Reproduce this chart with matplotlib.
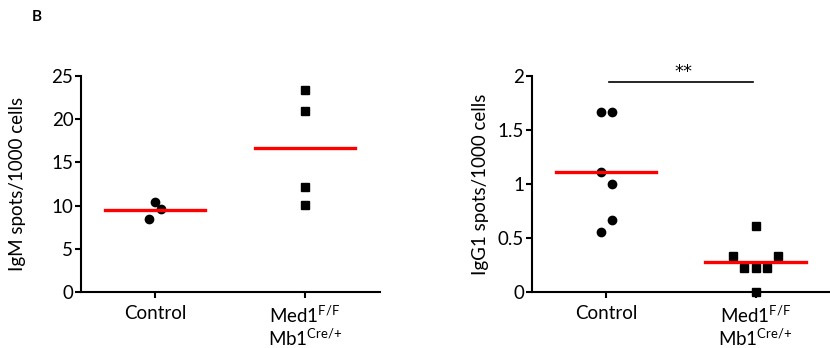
import numpy as np
import matplotlib
matplotlib.use("Agg")
import matplotlib.pyplot as plt

plt.rcParams['font.family'] = ['Lato', 'DejaVu Sans']
plt.rcParams['mathtext.default'] = 'regular'

# data
groups = ['Control', 'Med1$^{F/F}$\nMb1$^{Cre/{+}}$']

igm_ctrl = [8.5, 10.4, 9.6]
igm_ctrl_dx = [-0.04, 0.0, 0.04]
igm_med1 = [23.4, 20.9, 12.2, 10.1]
igm_med1_dx = [0.0, 0.0, 0.0, 0.0]

igg_ctrl = [1.667, 1.667, 1.11, 1.0, 0.667, 0.556]
igg_ctrl_dx = [-0.035, 0.04, -0.035, 0.04, 0.04, -0.035]
igg_med1 = [0.615, 0.333, 0.333, 0.222, 0.222, 0.222, 0.0]
igg_med1_dx = [0.0, -0.153, 0.151, -0.078, 0.0, 0.073, 0.0]

fig = plt.figure(figsize=(8.3, 3.48), dpi=100)
ax1 = fig.add_axes([0.0976, 0.160, 0.360, 0.6222])
ax2 = fig.add_axes([0.6406, 0.160, 0.360, 0.6222])


def panel(ax, ctrl, ctrl_dx, med, med_dx, ylim, yticks, yticklabels, ylabel, labelx):
    ax.plot(np.array(ctrl_dx) + 0, ctrl, 'o', color='black', ms=6, clip_on=False, zorder=3)
    ax.plot(np.array(med_dx) + 1, med, 's', color='black', ms=6, clip_on=False, zorder=3)
    for i, vals in enumerate([ctrl, med]):
        m = np.mean(vals)
        ax.plot([i - 0.335, i + 0.335], [m, m], color='red', lw=2.4, zorder=4)
    ax.set_xlim(-0.495, 1.5)
    ax.set_ylim(*ylim)
    ax.set_yticks(yticks)
    ax.set_yticklabels(yticklabels)
    ax.set_xticks([0, 1])
    ax.set_xticklabels(groups, fontsize=13.5, linespacing=1.08, va='top')
    for s in ['top', 'right']:
        ax.spines[s].set_visible(False)
    for s in ['left', 'bottom']:
        ax.spines[s].set_linewidth(1.5)
    ax.tick_params(axis='both', length=4, width=1.5, labelsize=13.5, pad=1.5)
    ax.tick_params(axis='x', pad=5)
    ax.set_ylabel(ylabel, fontsize=13.5, va='center')
    ax.yaxis.set_label_coords(labelx, 0.5)


panel(ax1, igm_ctrl, igm_ctrl_dx, igm_med1, igm_med1_dx,
      (0, 25), [0, 5, 10, 15, 20, 25], ['0', '5', '10', '15', '20', '25'],
      'IgM spots/1000 cells', -0.214)
panel(ax2, igg_ctrl, igg_ctrl_dx, igg_med1, igg_med1_dx,
      (0, 2), [0, 0.5, 1, 1.5, 2], ['0', '0.5', '1', '1.5', '2'],
      'IgG1 spots/1000 cells', -0.170)

# significance bar
ax2.plot([0.02, 0.98], [1.94, 1.94], color='black', lw=1.2, clip_on=False)
ax2.text(0.52, 1.95, '**', ha='center', va='bottom', fontsize=13,
         family=['DejaVu Sans'])

fig.text(0.0445, 0.951, 'B', fontsize=11, fontweight='bold', ha='center', va='center')

fig.savefig('out.png', dpi=100)
